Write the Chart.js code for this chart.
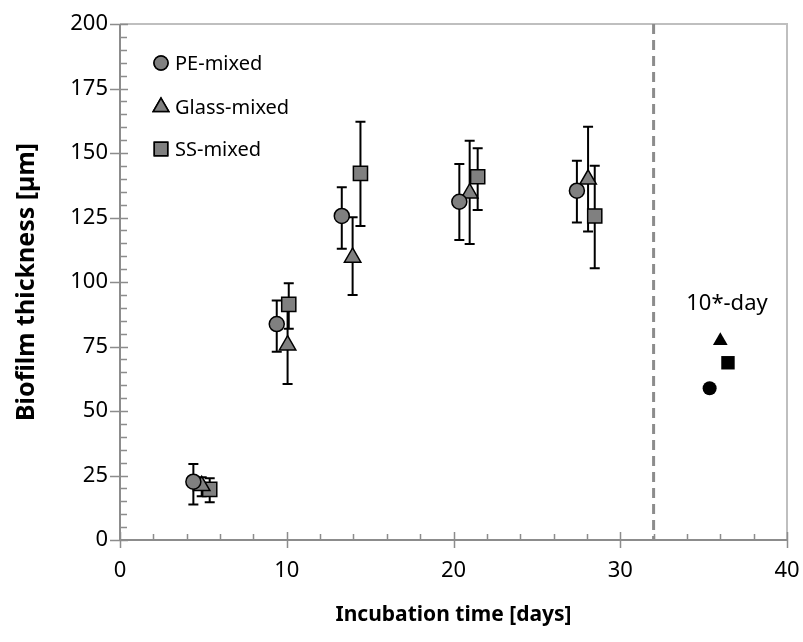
<!DOCTYPE html>
<html>
<head>
<meta charset="utf-8">
<script src="https://cdn.jsdelivr.net/npm/chart.js@4.4.0/dist/chart.umd.min.js"></script>
<style>
  html, body { margin: 0; padding: 0; background: #fff; }
  #wrap { width: 803px; height: 642px; }
</style>
</head>
<body>
<div id="wrap"><canvas id="grafico"></canvas></div>
<script>
// values
const peDays = [4.4, 9.4, 13.3, 20.35, 27.4];
const peValues = [22.6, 83.7, 125.6, 131.1, 135.4];
const peLow = [13.8, 73.0, 112.9, 116.3, 123.1];
const peHigh = [29.5, 92.8, 136.7, 145.7, 147.0];

const glassDays = [4.9, 10.05, 13.95, 20.97, 28.07];
const glassValues = [21.0, 75.5, 109.5, 134.4, 139.8];
const glassLow = [17.0, 60.5, 95.0, 114.7, 119.6];
const glassHigh = [24.3, 90.7, 125.1, 154.7, 160.2];

const ssDays = [5.38, 10.12, 14.42, 21.45, 28.47];
const ssValues = [19.6, 91.3, 142.1, 140.8, 125.6];
const ssLow = [14.6, 81.9, 121.7, 127.9, 105.3];
const ssHigh = [23.9, 99.5, 162.1, 151.8, 145.1];

// 10*-day points
const tenDayDays = [35.36, 36.0, 36.46];
const tenDayValues = [58.8, 77.2, 68.7];
const tenDayLabel = "10*-day";
const tenDayLabelPos = [36.4, 91.7];

const cutoffDay = 32;

const xTicks = [0, 10, 20, 30, 40];
const yTicks = [0, 25, 50, 75, 100, 125, 150, 175, 200];

const seriesNames = ["PE-mixed", "Glass-mixed", "SS-mixed"];

function pts(xs, ys) {
    return xs.map((x, i) => ({ x: x, y: ys[i] }));
}

const errorSets = [
    { days: peDays, low: peLow, high: peHigh },
    { days: glassDays, low: glassLow, high: glassHigh },
    { days: ssDays, low: ssLow, high: ssHigh },
];

const FONT = "'Noto Sans', 'Open Sans', sans-serif";

const extras = {
    id: "extras",
    beforeDatasetsDraw(chart) {
        const ctx = chart.ctx;
        const xs = chart.scales.x, ys = chart.scales.y;
        const a = chart.chartArea;
        ctx.save();
        // frame top/right
        ctx.strokeStyle = "#bfbfbf";
        ctx.lineWidth = 2;
        ctx.beginPath();
        ctx.moveTo(a.left, a.top);
        ctx.lineTo(a.right, a.top);
        ctx.lineTo(a.right, a.bottom);
        ctx.stroke();
        // dashed separator
        ctx.strokeStyle = "#8c8c8c";
        ctx.lineWidth = 3;
        ctx.setLineDash([10, 6]);
        const cx = xs.getPixelForValue(cutoffDay);
        ctx.beginPath();
        ctx.moveTo(cx, a.top);
        ctx.lineTo(cx, a.bottom);
        ctx.stroke();
        ctx.setLineDash([]);
        // axes
        ctx.strokeStyle = "#8c8c8c";
        ctx.lineWidth = 2;
        ctx.beginPath();
        ctx.moveTo(a.left, a.top);
        ctx.lineTo(a.left, a.bottom);
        ctx.lineTo(a.right, a.bottom);
        ctx.stroke();
        // ticks
        ctx.lineWidth = 1.5;
        ctx.beginPath();
        for (let v = 0; v <= 200; v += 5) {
            const py = Math.round(ys.getPixelForValue(v)) + 0.5;
            if (v % 25 === 0) {
                ctx.moveTo(a.left - 10, py); ctx.lineTo(a.left + 8, py);
            } else {
                ctx.moveTo(a.left, py); ctx.lineTo(a.left + 7, py);
            }
        }
        for (let d = 0; d <= 40; d += 2) {
            const px = Math.round(xs.getPixelForValue(d)) + 0.5;
            if (d % 10 === 0) {
                ctx.moveTo(px, a.bottom - 8); ctx.lineTo(px, a.bottom + 8);
            } else {
                ctx.moveTo(px, a.bottom - 6); ctx.lineTo(px, a.bottom);
            }
        }
        ctx.stroke();
        // error bars
        ctx.strokeStyle = "#000";
        ctx.lineWidth = 2;
        errorSets.forEach(s => {
            s.days.forEach((d, i) => {
                const px = xs.getPixelForValue(d);
                const lo = ys.getPixelForValue(s.low[i]);
                const hi = ys.getPixelForValue(s.high[i]);
                ctx.beginPath();
                ctx.moveTo(px, lo); ctx.lineTo(px, hi);
                ctx.moveTo(px - 5, lo); ctx.lineTo(px + 5, lo);
                ctx.moveTo(px - 5, hi); ctx.lineTo(px + 5, hi);
                ctx.stroke();
            });
        });
        ctx.restore();
    },
    afterDraw(chart) {
        const ctx = chart.ctx;
        const xs = chart.scales.x, ys = chart.scales.y;
        ctx.save();
        // legend
        const styles = ["circle", "triangle", "rect"];
        const radii = [7, 9, 9.5];
        const rowY = [63, 107, 149];
        ctx.font = "20px " + FONT;
        ctx.textBaseline = "middle";
        seriesNames.forEach((name, i) => {
            ctx.fillStyle = "#808080";
            ctx.strokeStyle = "#000";
            ctx.lineWidth = 1.5;
            Chart.helpers.drawPoint(ctx, { pointStyle: styles[i], radius: radii[i], borderWidth: 1.5 }, 161, rowY[i]);
            ctx.fill();
            ctx.stroke();
            ctx.fillStyle = "#000";
            ctx.fillText(name, 175, rowY[i] + 1);
        });
        // 10*-day label
        ctx.font = "22px " + FONT;
        ctx.textAlign = "center";
        ctx.fillText(tenDayLabel, xs.getPixelForValue(tenDayLabelPos[0]), ys.getPixelForValue(tenDayLabelPos[1]));
        ctx.restore();
    }
};

const marker = { backgroundColor: "#808080", borderColor: "#000", borderWidth: 1.5 };

new Chart(document.getElementById("grafico").getContext("2d"), {
    type: "scatter",
    data: {
        datasets: [
            Object.assign({ label: seriesNames[0], data: pts(peDays, peValues), pointStyle: "circle", pointRadius: 7.5 }, marker),
            Object.assign({ label: seriesNames[1], data: pts(glassDays, glassValues), pointStyle: "triangle", pointRadius: 9.5 }, marker),
            Object.assign({ label: seriesNames[2], data: pts(ssDays, ssValues), pointStyle: "rect", pointRadius: 10 }, marker),
            { label: "PE 10", data: pts([tenDayDays[0]], [tenDayValues[0]]), pointStyle: "circle", pointRadius: 7, backgroundColor: "#000", borderColor: "#000", borderWidth: 0 },
            { label: "Glass 10", data: pts([tenDayDays[1]], [tenDayValues[1]]), pointStyle: "triangle", pointRadius: 8.5, backgroundColor: "#000", borderColor: "#000", borderWidth: 0 },
            { label: "SS 10", data: pts([tenDayDays[2]], [tenDayValues[2]]), pointStyle: "rect", pointRadius: 9.5, backgroundColor: "#000", borderColor: "#000", borderWidth: 0 },
        ],
    },
    options: {
        responsive: true,
        maintainAspectRatio: false,
        animation: false,
        layout: { padding: { left: 0, right: 16, top: 24, bottom: 0 } },
        plugins: { legend: { display: false }, tooltip: { enabled: false } },
        scales: {
            x: {
                type: "linear", min: 0, max: 40,
                afterBuildTicks: s => { s.ticks = xTicks.map(v => ({ value: v })); },
                afterFit: s => { s.height = 102; s.paddingLeft = 0; s.paddingRight = 0; },
                grid: { display: false, drawTicks: false },
                border: { display: false },
                ticks: { color: "#000", font: { size: 22, family: FONT }, padding: 18 },
                title: { display: true, text: "Incubation time [days]", color: "#000", font: { size: 21, weight: "bold", family: FONT }, padding: { top: 4, bottom: 14 } },
            },
            y: {
                type: "linear", min: 0, max: 200,
                afterBuildTicks: s => { s.ticks = yTicks.map(v => ({ value: v })); },
                afterFit: s => { s.width = 120; s.paddingTop = 0; s.paddingBottom = 0; },
                grid: { display: false, drawTicks: false },
                border: { display: false },
                ticks: { color: "#000", font: { size: 22, family: FONT }, padding: 12 },
                title: { display: true, text: "Biofilm thickness [µm]", color: "#000", font: { size: 25, weight: "bold", family: FONT }, padding: { top: 12, bottom: 4 } },
            },
        },
    },
    plugins: [extras],
});
</script>
</body>
</html>
